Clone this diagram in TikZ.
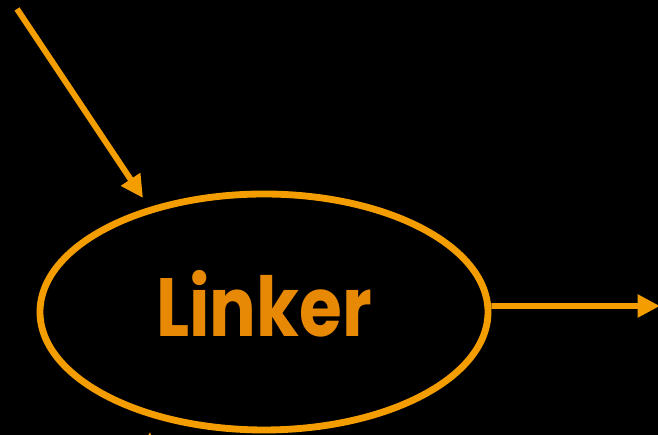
\documentclass[tikz,border=0pt]{standalone}
\usepackage{fontspec}
\usetikzlibrary{arrows.meta,shapes.geometric,calc}
\newfontfamily\stagefont{Poppins}[UprightFont=* Bold]
\definecolor{amber}{RGB}{243, 157, 0}
\definecolor{carrot}{RGB}{232, 137, 6}

\tikzset{
  flow/.style={draw=amber, line width=3.4pt, -{Triangle[length=0.45cm, width=0.44cm]}},
  stage/.style={ellipse, draw=amber, line width=3.9pt, inner sep=0pt,
                minimum width=8.96cm, minimum height=4.72cm,
                text=carrot, font=\stagefont\fontsize{47}{50}\selectfont, text depth=0.36cm}
}

\begin{document}
\begin{tikzpicture}
            % black page
            \fill[black] (0,0) rectangle (13.16,8.7);
            \useasboundingbox (0,0) rectangle (13.16,8.7);
            \clip (0,0) rectangle (13.16,8.7);

            \node[stage] (linker) at (5.28,2.46) {\scalebox{0.84}[1]{Linker}};

            \coordinate (objin)  at ( 0.34, 8.52);
            \coordinate (objtip) at ( 2.86, 4.74);
            \coordinate (libin)  at ( 2.90,-1.20);
            \coordinate (libtip) at ( 3.00, 0.06);
            \coordinate (exeout) at (13.20, 2.58);

            \draw[flow] (objin) -- (objtip);
            \draw[flow] (libin) -- (libtip);
            \draw[flow] ($(linker.east)+(0,0.12)$) -- (exeout);
\end{tikzpicture}
\end{document}
